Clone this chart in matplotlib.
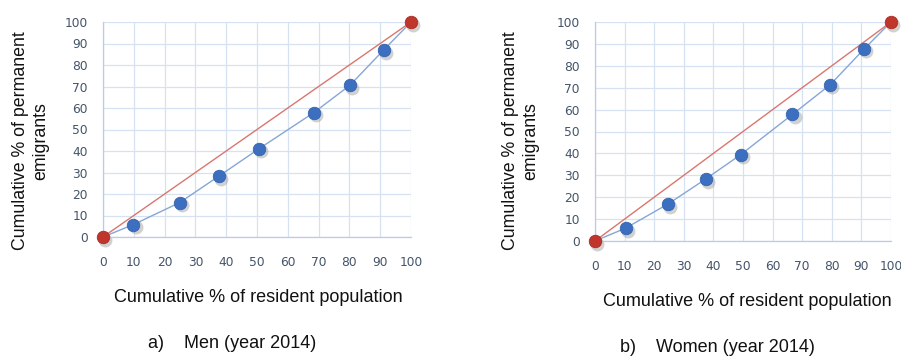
import matplotlib
matplotlib.use("Agg")
import matplotlib.pyplot as plt
from matplotlib.transforms import offset_copy

# Cumulative shares (%) for the Lorenz-type concentration curves
pop_men = [0, 9.9, 24.9, 37.6, 50.7, 68.5, 80.2, 91.2, 100]
emig_men = [0, 5.8, 16.0, 28.3, 41.1, 57.9, 70.6, 87.1, 100]

pop_women = [0, 10.4, 24.8, 37.4, 49.2, 66.7, 79.5, 91.0, 100]
emig_women = [0, 5.9, 17.0, 28.3, 39.4, 57.8, 71.4, 87.8, 100]

equality = [0, 100]
ticks = list(range(0, 101, 10))

ylabel = "Cumulative % of permanent\nemigrants"
xlabel = "Cumulative % of resident population"
captions = ["a)    Men (year 2014)", "b)    Women (year 2014)"]

BLUE = "#3d6fc0"
LINE_BLUE = "#86a6d6"
RED = "#c0362c"
LINE_RED = "#d9776f"
GRID = "#d6e1f1"
TICK = "#44546a"

fig = plt.figure(figsize=(9.01, 3.56), dpi=100)

panels = [
    dict(rect=[103/901, 1-237/356, 308/901, 215/356], x=pop_men, y=emig_men,
         ylab_x=31/901, xlab=(258/901, 1-298/356), cap_x=148/901, cap_y=1-344/356),
    dict(rect=[595/901, 1-241/356, 296/901, 219/356], x=pop_women, y=emig_women,
         ylab_x=521/901, xlab=(747/901, 1-302/356), cap_x=620/901, cap_y=1-348/356),
]

for i, p in enumerate(panels):
    ax = fig.add_axes(p["rect"])
    ax.set_xlim(0, 100)
    ax.set_ylim(0, 100)
    ax.set_xticks(ticks)
    ax.set_yticks(ticks)
    ax.grid(True, color=GRID, linewidth=0.9)
    ax.set_axisbelow(True)
    for s in ["top", "right"]:
        ax.spines[s].set_visible(False)
    for s in ["left", "bottom"]:
        ax.spines[s].set_color("#b8cbe8")
        ax.spines[s].set_linewidth(0.9)
    ax.tick_params(length=0, labelsize=8.8, labelcolor=TICK)
    ax.tick_params(axis="x", pad=14)
    ax.tick_params(axis="y", pad=11)

    # soft drop shadows under the markers
    shadow = offset_copy(ax.transData, fig=fig, x=1.5, y=-2.0, units="points")
    ax.plot(p["x"][1:-1], p["y"][1:-1], "o", ms=10, color="#9a9a9a", alpha=0.45,
            mec="none", transform=shadow, clip_on=False, zorder=2)
    ax.plot(equality, equality, "o", ms=10, color="#9a9a9a", alpha=0.45,
            mec="none", transform=shadow, clip_on=False, zorder=2)

    ax.plot(equality, equality, color=LINE_RED, lw=1.0, zorder=3)
    ax.plot(p["x"], p["y"], color=LINE_BLUE, lw=1.0, zorder=3)
    ax.plot(p["x"][1:-1], p["y"][1:-1], "o", ms=9, color=BLUE, mec="#3563ad",
            mew=0.6, clip_on=False, zorder=4)
    ax.plot(equality, equality, "o", ms=9, color=RED, mec="#a82d24", mew=0.6,
            clip_on=False, zorder=5)

    fig.text(p["ylab_x"], 1-141/356, ylabel, rotation=90, ha="center", va="center",
             fontsize=12.8, family="Liberation Sans", linespacing=1.25, color="#111111")
    fig.text(p["xlab"][0], p["xlab"][1], xlabel, ha="center", va="center",
             fontsize=13, family="Liberation Sans", color="#111111")
    fig.text(p["cap_x"], p["cap_y"], captions[i], ha="left", va="center",
             fontsize=13, family="Liberation Sans", color="#111111")

fig.savefig("out.png", dpi=100, facecolor="white")
